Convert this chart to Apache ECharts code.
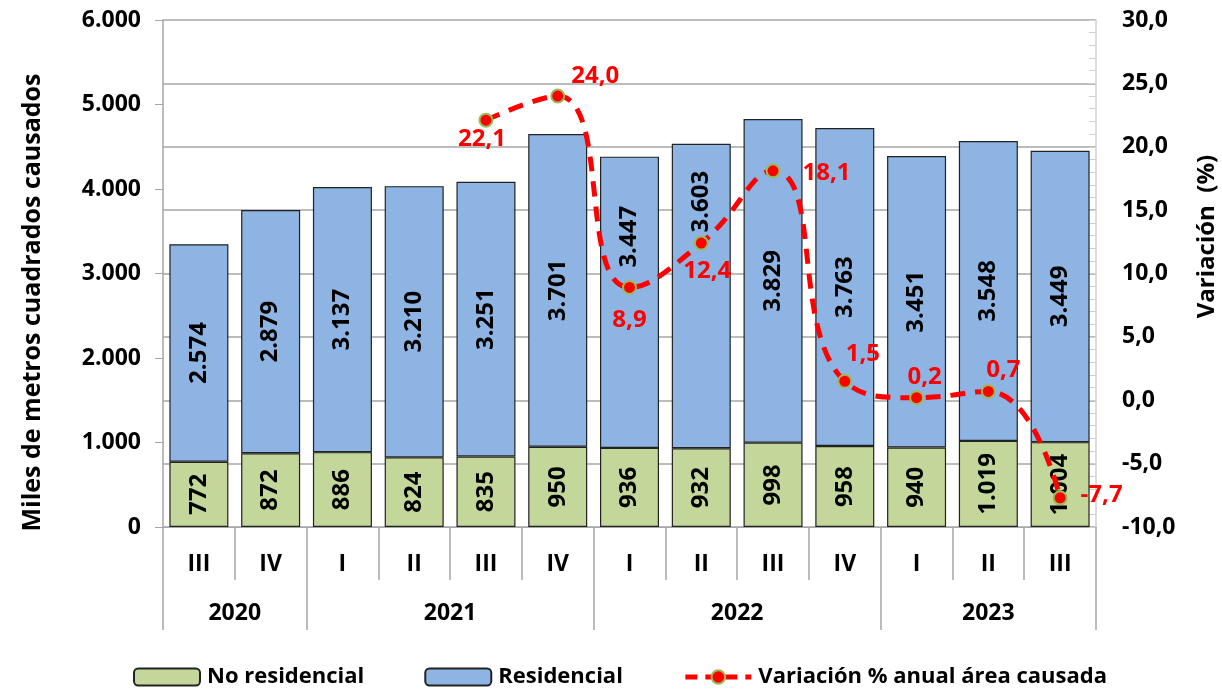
<!DOCTYPE html>
<html>
<head>
<meta charset="utf-8">
<script src="https://cdn.jsdelivr.net/npm/echarts@6/dist/echarts.min.js"></script>
<style>html,body{margin:0;padding:0;background:#fff;}#c{width:1222px;height:694px;}</style>
</head>
<body>
<div id="c"></div>
<script>
var quarters = ['III','IV','I','II','III','IV','I','II','III','IV','I','II','III'];
var yearOf = ['2020','2020','2021','2021','2021','2021','2022','2022','2022','2022','2023','2023','2023'];
var noResidencial = [772, 872, 886, 824, 835, 950, 936, 932, 998, 958, 940, 1019, 1004];
var residencial = [2574, 2879, 3137, 3210, 3251, 3701, 3447, 3603, 3829, 3763, 3451, 3548, 3449];
var variacion = [null, null, null, null, 22.1, 24.0, 8.9, 12.4, 18.1, 1.5, 0.2, 0.7, -7.7];
var leftTicks = [0, 1000, 2000, 3000, 4000, 5000, 6000];
var rightTicks = [-10, -5, 0, 5, 10, 15, 20, 25, 30];

// year groups derived from yearOf
var years = [], yearStart = {}, yearEnd = {};
yearOf.forEach(function (y, i) {
  if (!(y in yearStart)) { years.push(y); yearStart[y] = i; }
  yearEnd[y] = i;
});
var yearCenters = years.map(function (y) { return (yearStart[y] + yearEnd[y]) / 2; });

var FONT = 'Open Sans';
var GRAY = '#a6a6a6';
function thou(v) { return String(Math.round(v)).replace(/\B(?=(\d{3})+(?!\d))/g, '.'); }
function comma1(v) { return Number(v).toFixed(1).replace('.', ','); }

// label placement per point of the variation line
var lblPos = [null, null, null, null,
  {position: 'bottom', distance: 0, offset: [-4, 0]},
  {position: 'right', distance: 6, offset: [0, -20]},
  {position: 'bottom', distance: 13, offset: [0, 0]},
  {position: 'bottom', distance: 9, offset: [6, 0]},
  {position: 'right', distance: 22, offset: [0, 2]},
  {position: 'top', distance: 8, offset: [18, 0]},
  {position: 'top', distance: 1, offset: [8, 0]},
  {position: 'top', distance: 2, offset: [15, 0]},
  {position: 'right', distance: 13, offset: [0, -3]}
];
var lineData = variacion.map(function (v, i) {
  if (v === null) return null;
  var o = {value: v};
  if (lblPos[i]) o.label = lblPos[i];
  return o;
});
// residential labels moved up in the original for points 6 and 7
var resLabelPos = {6: ['50%', '27.5%'], 7: ['50%', '19%']};
var resData = residencial.map(function (v, i) {
  var o = {value: v};
  if (resLabelPos[i]) o.label = {position: resLabelPos[i], align: 'center', verticalAlign: 'middle'};
  return o;
});

var chart = echarts.init(document.getElementById('c'), null, {renderer: 'canvas'});
chart.setOption({
  animation: false,
  textStyle: {fontFamily: FONT},
  grid: {left: 163, right: 126, top: 20, bottom: 167, containLabel: false, outerBoundsMode: 'none'},
  legend: {
    bottom: 1,
    left: 128,
    itemWidth: 66,
    itemHeight: 17,
    itemGap: 60,
    textStyle: {fontFamily: FONT, fontSize: 22, fontWeight: 'bold', color: '#000', padding: [0, 0, 0, 2]},
    data: ['No residencial', 'Residencial', {name: 'Variación % anual área causada', lineStyle: {width: 5, type: [12, 8]}}]
  },
  xAxis: [{
    type: 'category',
    data: quarters,
    position: 'bottom',
    axisLine: {show: true, onZero: false, lineStyle: {color: GRAY, width: 1}},
    axisTick: {show: true, interval: 0, length: 53, lineStyle: {color: GRAY, width: 1.5}},
    axisLabel: {interval: 0, margin: 26, fontFamily: FONT, fontSize: 23, fontWeight: 'bold', color: '#000'},
    splitLine: {show: false}
  }, {
    type: 'category',
    data: quarters,
    position: 'bottom',
    axisLine: {show: false, onZero: false},
    axisTick: {show: true, length: 103, lineStyle: {color: GRAY, width: 1.5},
      interval: function (i) { return i === 0 || yearOf[i] !== yearOf[i - 1]; }},
    axisLabel: {show: false},
    splitLine: {show: false}
  }, {
    type: 'value',
    position: 'bottom',
    min: -0.5,
    max: quarters.length - 0.5,
    axisLine: {show: false, onZero: false},
    axisTick: {show: false},
    axisLabel: {
      customValues: yearCenters,
      margin: 75,
      fontFamily: FONT, fontSize: 23, fontWeight: 'bold', color: '#000',
      formatter: function (v) {
        var k = yearCenters.indexOf(v);
        return k >= 0 ? years[k] : '';
      }
    },
    splitLine: {show: false}
  }],
  yAxis: [{
    type: 'value',
    min: leftTicks[0],
    max: leftTicks[leftTicks.length - 1],
    interval: 1000,
    position: 'left',
    name: 'Miles de metros cuadrados causados',
    nameLocation: 'middle',
    nameGap: 118,
    nameRotate: 90,
    nameTextStyle: {fontFamily: FONT, fontSize: 25, fontWeight: 'bold', color: '#000', padding: [0, 58, 0, 0]},
    axisLine: {show: true, onZero: false, lineStyle: {color: GRAY, width: 1.5}},
    axisTick: {show: true, inside: false, length: 8, lineStyle: {color: GRAY}},
    axisLabel: {margin: 22, fontFamily: FONT, fontSize: 23, fontWeight: 'bold', color: '#000', formatter: thou},
    splitLine: {show: false}
  }, {
    type: 'value',
    min: rightTicks[0],
    max: rightTicks[rightTicks.length - 1],
    interval: 5,
    position: 'right',
    name: 'Variación  (%)',
    nameLocation: 'middle',
    nameGap: 99,
    nameRotate: 90,
    nameTextStyle: {fontFamily: FONT, fontSize: 24, fontWeight: 'bold', color: '#000', padding: [0, 0, 0, 74]},
    axisLine: {show: true, onZero: false, lineStyle: {color: '#d0d0d0', width: 1.5}},
    axisTick: {show: true, inside: true, length: 7, lineStyle: {color: '#d0d0d0'}},
    minorTick: {show: true, splitNumber: 5, length: 7, lineStyle: {color: '#d0d0d0'}},
    axisLabel: {margin: 26, align: 'left', fontFamily: FONT, fontSize: 23, fontWeight: 'bold', color: '#000', formatter: comma1},
    splitLine: {show: true, lineStyle: {color: GRAY, width: 1.5}}
  }],
  series: [{
    name: 'No residencial',
    type: 'bar',
    stack: 'area',
    xAxisIndex: 0,
    yAxisIndex: 0,
    barWidth: 59,
    data: noResidencial,
    itemStyle: {color: '#c4d79b', borderColor: '#222', borderWidth: 1.2},
    label: {show: true, position: 'inside', rotate: 90, fontFamily: FONT, fontSize: 24, fontWeight: 'bold', color: '#000',
      formatter: function (p) { return thou(p.value); }}
  }, {
    name: 'Residencial',
    type: 'bar',
    stack: 'area',
    xAxisIndex: 0,
    yAxisIndex: 0,
    barWidth: 59,
    data: resData,
    itemStyle: {color: '#8db4e2', borderColor: '#222', borderWidth: 1.2},
    label: {show: true, position: 'inside', rotate: 90, fontFamily: FONT, fontSize: 24, fontWeight: 'bold', color: '#000',
      formatter: function (p) { return thou(p.value); }}
  }, {
    name: 'Variación % anual área causada',
    type: 'line',
    xAxisIndex: 0,
    yAxisIndex: 1,
    data: lineData,
    smooth: 0.5,
    connectNulls: false,
    symbol: 'circle',
    symbolSize: 13,
    z: 10,
    lineStyle: {color: '#ff0000', width: 5, type: [15, 10]},
    itemStyle: {color: '#ff0000', borderColor: '#9bbb59', borderWidth: 2},
    label: {show: true, fontFamily: FONT, fontSize: 24, fontWeight: 'bold', color: '#ff0000',
      formatter: function (p) { return comma1(p.value); }}
  }]
});
</script>
</body>
</html>
